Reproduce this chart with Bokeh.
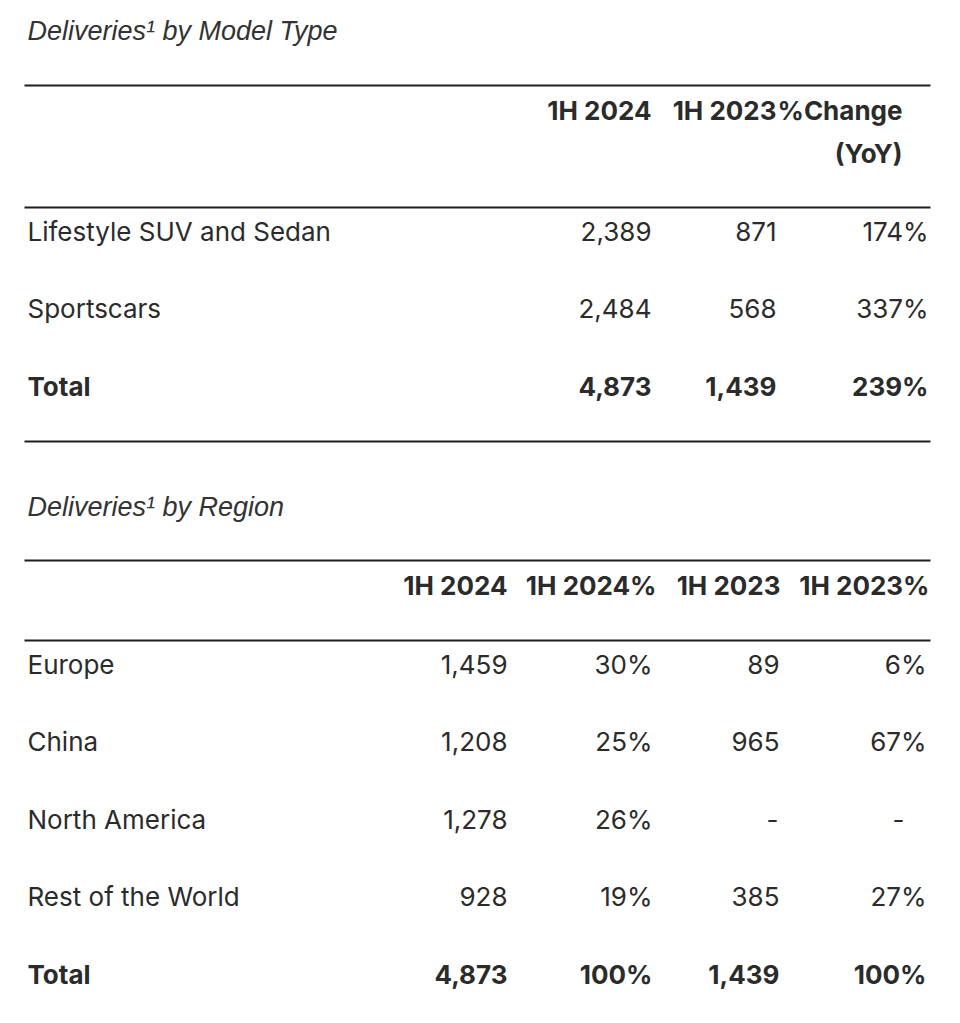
from bokeh.plotting import figure
from bokeh.models import Range1d, ColumnDataSource
from bokeh.core.properties import value
from bokeh.embed import file_html
from bokeh.resources import INLINE

# ---------------- data ----------------
model_title = "Deliveries\u00b9 by Model Type"
model_headers = ["1H 2024", "1H 2023", "%Change"]
model_header2 = "(YoY)"
model_types = ["Lifestyle SUV and Sedan", "Sportscars"]
model_1h2024 = [2389, 2484]
model_1h2023 = [871, 568]
model_yoy = [174, 337]
model_total = ["Total", 4873, 1439, 239]

region_title = "Deliveries\u00b9 by Region"
region_headers = ["1H 2024", "1H 2024%", "1H 2023", "1H 2023%"]
regions = ["Europe", "China", "North America", "Rest of the World"]
region_1h2024 = [1459, 1208, 1278, 928]
region_1h2024_pct = [30, 25, 26, 19]
region_1h2023 = [89, 965, None, 385]
region_1h2023_pct = [6, 67, None, 27]
region_total = ["Total", 4873, 100, 1439, 100]


def num(v):
    return "" if v is None else f"{v:,}"


def pct(v):
    return "" if v is None else f"{v}%"


# ---------------- layout ----------------
W, H = 944, 1007
p = figure(width=W, height=H, output_backend="svg", toolbar_location=None,
           x_range=Range1d(0, W), y_range=Range1d(H, 0),
           min_border=0, outline_line_color=None)
p.axis.visible = False
p.grid.visible = False
p.background_fill_color = "white"
p.border_fill_color = "white"

TXT = "#2b2b2b"
BODY_FONT = value("Inter")
TITLE_FONT = value("Liberation Sans")
FS = "26px"
LEFT = 27

# rules
rule_y = [85, 207, 441, 560, 640]
p.segment(x0=[24] * len(rule_y), x1=[930] * len(rule_y), y0=rule_y, y1=rule_y,
          line_color="#1e1e1e", line_width=2)

# titles
p.text(x=[LEFT, LEFT], y=[30, 506], text=[model_title, region_title],
       text_font=TITLE_FONT, text_font_style="italic", text_font_size="27px",
       text_color="#333333", text_baseline="middle", text_align="left")

# ---- table 1 ----
t1_cols = [651, 776, 928]
t1_hdr_x = [651, 776, 902]
p.text(x=t1_hdr_x, y=[110] * 3, text=model_headers, text_font=BODY_FONT,
       text_font_style="bold", text_font_size=FS, text_color=TXT,
       text_baseline="middle", text_align="right")
p.text(x=[902], y=[153], text=[model_header2], text_font=BODY_FONT,
       text_font_style="bold", text_font_size=FS, text_color=TXT,
       text_baseline="middle", text_align="right")

t1_rows_y = [231, 308]
src1 = ColumnDataSource(dict(y=t1_rows_y, name=model_types,
                             a=[num(v) for v in model_1h2024],
                             b=[num(v) for v in model_1h2023],
                             c=[pct(v) for v in model_yoy]))
p.text(x=LEFT, y="y", text="name", source=src1, text_font=BODY_FONT,
       text_font_size=FS, text_color=TXT, text_baseline="middle", text_align="left")
for col, xr in zip(["a", "b", "c"], t1_cols):
    p.text(x=xr, y="y", text=col, source=src1, text_font=BODY_FONT,
           text_font_size=FS, text_color=TXT, text_baseline="middle", text_align="right")

# total row
p.text(x=[LEFT], y=[386], text=[model_total[0]], text_font=BODY_FONT,
       text_font_style="bold", text_font_size=FS, text_color=TXT,
       text_baseline="middle", text_align="left")
p.text(x=t1_cols, y=[386] * 3,
       text=[num(model_total[1]), num(model_total[2]), pct(model_total[3])],
       text_font=BODY_FONT, text_font_style="bold", text_font_size=FS,
       text_color=TXT, text_baseline="middle", text_align="right")

# ---- table 2 ----
t2_cols = [507, 652, 779, 926]
t2_hdr_x = [507, 656, 780, 929]
p.text(x=t2_hdr_x, y=[585] * 4, text=region_headers, text_font=BODY_FONT,
       text_font_style="bold", text_font_size=FS, text_color=TXT,
       text_baseline="middle", text_align="right")

t2_rows_y = [664, 741, 819, 896]
src2 = ColumnDataSource(dict(y=t2_rows_y, name=regions,
                             a=[num(v) for v in region_1h2024],
                             b=[pct(v) for v in region_1h2024_pct],
                             c=[num(v) for v in region_1h2023],
                             d=[pct(v) for v in region_1h2023_pct]))
p.text(x=LEFT, y="y", text="name", source=src2, text_font=BODY_FONT,
       text_font_size=FS, text_color=TXT, text_baseline="middle", text_align="left")
for col, xr in zip(["a", "b", "c", "d"], t2_cols):
    p.text(x=xr, y="y", text=col, source=src2, text_font=BODY_FONT,
           text_font_size=FS, text_color=TXT, text_baseline="middle", text_align="right")

# missing-value dashes
miss_x, miss_y = [], []
for vals, xr in zip([region_1h2023, region_1h2023_pct], [778, 904]):
    for v, yy in zip(vals, t2_rows_y):
        if v is None:
            miss_x.append(xr)
            miss_y.append(yy)
p.text(x=miss_x, y=miss_y, text=["-"] * len(miss_x), text_font=BODY_FONT,
       text_font_size=FS, text_color=TXT, text_baseline="middle", text_align="right")

p.text(x=[LEFT], y=[974], text=[region_total[0]], text_font=BODY_FONT,
       text_font_style="bold", text_font_size=FS, text_color=TXT,
       text_baseline="middle", text_align="left")
p.text(x=t2_cols, y=[974] * 4,
       text=[num(region_total[1]), pct(region_total[2]), num(region_total[3]), pct(region_total[4])],
       text_font=BODY_FONT, text_font_style="bold", text_font_size=FS,
       text_color=TXT, text_baseline="middle", text_align="right")

open("out.html", "w").write(file_html(p, INLINE))
